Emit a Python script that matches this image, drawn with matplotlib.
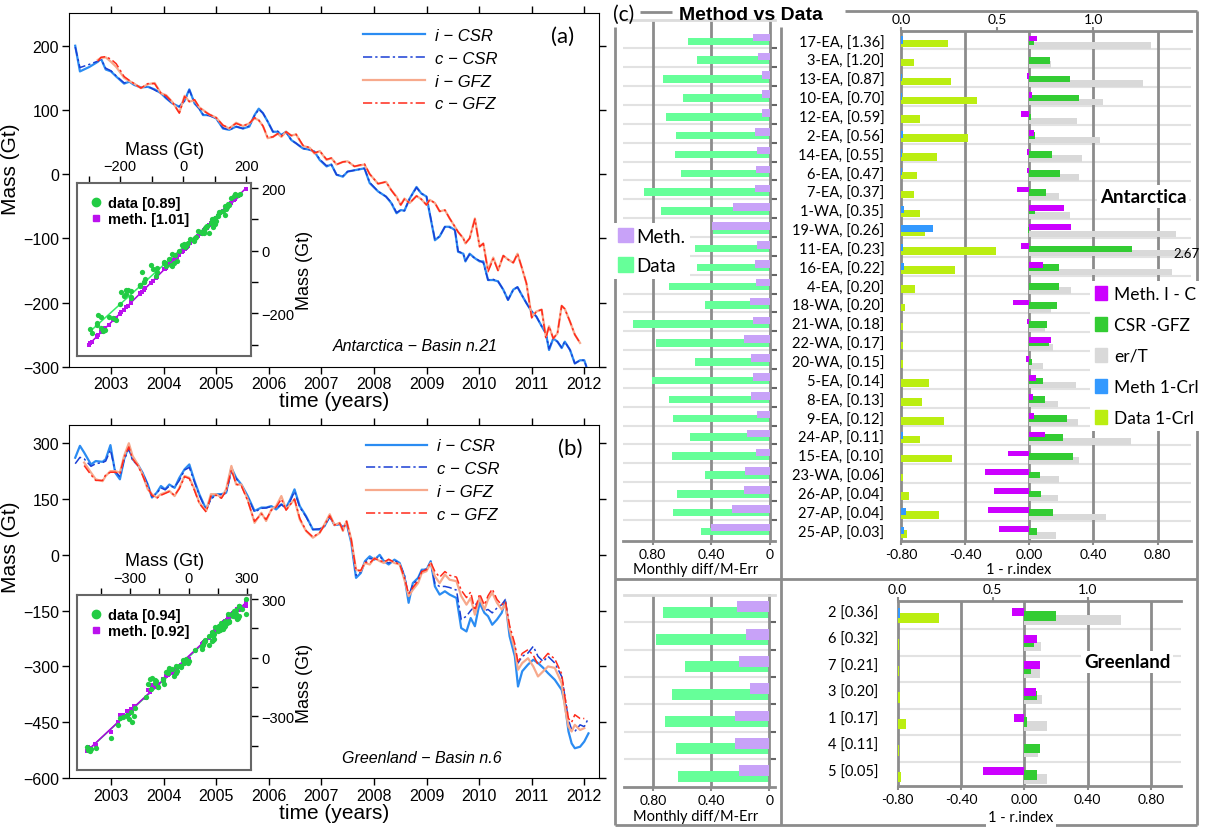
import numpy as np
import matplotlib
matplotlib.use('Agg')
import matplotlib.pyplot as plt
from matplotlib.patches import Patch
from matplotlib.lines import Line2D

nan = np.nan
W, H = 1206, 828

# ---------------- panel (a): Antarctica, basin 21 ----------------
t_a = [2002.32, 2002.41, 2002.59, 2002.75, 2002.81, 2002.90, 2003.00, 2003.10, 2003.25, 2003.35,
       2003.44, 2003.57, 2003.70, 2003.83, 2003.95, 2004.05, 2004.17, 2004.30, 2004.40, 2004.49,
       2004.59, 2004.68, 2004.75, 2004.87, 2005.00, 2005.13, 2005.25, 2005.38, 2005.51, 2005.63,
       2005.73, 2005.81, 2005.89, 2005.98, 2006.08, 2006.17, 2006.24, 2006.33, 2006.43, 2006.52,
       2006.65, 2006.78, 2006.87, 2006.97, 2007.10, 2007.19, 2007.29, 2007.41, 2007.50, 2007.63,
       2007.82, 2007.92, 2008.08, 2008.23, 2008.33, 2008.43, 2008.51, 2008.58, 2008.68, 2008.81,
       2008.90, 2009.00, 2009.06, 2009.16, 2009.25, 2009.35, 2009.44, 2009.54, 2009.60, 2009.70,
       2009.74, 2009.82, 2009.92, 2010.01, 2010.08, 2010.17, 2010.27, 2010.36, 2010.46, 2010.55,
       2010.65, 2010.73, 2010.81, 2010.90, 2011.00, 2011.09, 2011.19, 2011.27, 2011.33, 2011.41,
       2011.49, 2011.57, 2011.63, 2011.73, 2011.82, 2011.92, 2012.00, 2012.04]
i_csr_a = [200, 160, 167, 175, 180, 163, 160, 152, 141, 144, 139, 135, 136, 132, 126, 118, 110, 105,
           115, 132, 110, 102, 92, 92, 87, 71, 69, 74, 71, 74, 92, 102, 95, 82, 66, 66, 61, 66, 53,
           48, 40, 38, 35, 22, 12, 15, -1, -4, 4, 6, 9, -14, -27, -35, -45, -61, -56, -57, -38, -20,
           -30, -35, -61, -103, -97, -82, -82, -87, -121, -124, -136, -124, -131, -136, -136, -165,
           -165, -167, -180, -196, -180, -176, -188, -201, -214, -222, -237, -248, -274, -256, -261,
           -271, -261, -274, -295, -290, -290, -300]
c_csr_a = [198, 166, 171, 176, 179, 165, 161, 153, 142, 145, 140, 135, 137, 131, 126, 119, 110, 105,
           114, 131, 111, 102, 93, 91, 87, 72, 69, 74, 71, 75, 91, 101, 95, 82, 66, 67, 61, 65, 53,
           48, 40, 38, 35, 23, 13, 15, -1, -3, 4, 6, 9, -13, -27, -35, -44, -60, -56, -57, -38, -21,
           -30, -35, -60, -102, -97, -82, -83, -87, -120, -124, -135, -125, -131, -135, -138, -165,
           -164, -167, -180, -196, -180, -176, -188, -201, -214, -222, -237, -248, -272, -256, -261,
           -270, -261, -274, -295, -290, -290, -300]
i_gfz_a = [nan, nan, nan, 178, 181, 182, 175, 167, 150, 145, 141, 134, 140, 142, 126, 123, 112, 96,
           122, 113, 115, 104, 100, 93, 88, 76, 71, 80, 75, 79, 87, 84, 75, 56, 58, 63, 58, 66, 60,
           62, 44, 41, 32, 36, 22, 25, 15, 19, 20, 12, 15, 0, -15, -12, -25, -35, -48, -38, -45, -34,
           -39, -48, -40, -45, -58, -56, -69, -82, -90, -100, -108, -100, -69, -113, -108, -149,
           -130, -150, -127, -133, -138, -124, -145, -170, -222, -214, -211, -253, -237, -256, -248,
           -205, -210, -230, -250, -263, nan, nan]
c_gfz_a = [nan, nan, nan, 176, 182, 183, 179, 172, 152, 146, 141, 134, 141, 141, 126, 122, 112, 95,
           121, 113, 116, 104, 99, 93, 88, 76, 72, 79, 75, 79, 88, 84, 75, 57, 58, 63, 59, 66, 60,
           62, 45, 41, 33, 36, 23, 25, 15, 19, 20, 12, 16, 0, -15, -12, -25, -36, -48, -39, -45, -34,
           -39, -48, -40, -45, -58, -56, -69, -82, -90, -100, -108, -100, -70, -113, -108, -152,
           -132, -150, -127, -133, -138, -124, -145, -170, -224, -214, -211, -256, -237, -256, -248,
           -205, -210, -230, -250, -263, nan, nan]

# ---------------- panel (b): Greenland, basin 6 ----------------
t_b = [2002.32, 2002.41, 2002.49, 2002.62, 2002.71, 2002.84, 2002.90, 2002.99, 2003.08, 2003.17,
       2003.25, 2003.34, 2003.41, 2003.51, 2003.60, 2003.70, 2003.78, 2003.87, 2003.95, 2004.03,
       2004.11, 2004.21, 2004.30, 2004.40, 2004.49, 2004.59, 2004.68, 2004.81, 2004.90, 2005.00,
       2005.10, 2005.19, 2005.29, 2005.38, 2005.48, 2005.60, 2005.73, 2005.86, 2005.95, 2006.05,
       2006.14, 2006.24, 2006.33, 2006.41, 2006.49, 2006.59, 2006.71, 2006.84, 2006.97, 2007.06,
       2007.16, 2007.25, 2007.35, 2007.41, 2007.48, 2007.57, 2007.66, 2007.75, 2007.83, 2007.92,
       2008.01, 2008.11, 2008.19, 2008.28, 2008.39, 2008.49, 2008.58, 2008.66, 2008.74, 2008.84,
       2008.91, 2009.00, 2009.08, 2009.16, 2009.25, 2009.35, 2009.44, 2009.57, 2009.66, 2009.76,
       2009.84, 2009.92, 2010.01, 2010.10, 2010.17, 2010.25, 2010.34, 2010.43, 2010.50, 2010.58,
       2010.68, 2010.74, 2010.82, 2010.93, 2011.03, 2011.12, 2011.22, 2011.31, 2011.44, 2011.57,
       2011.63, 2011.70, 2011.76, 2011.82, 2011.92, 2012.00, 2012.08]
i_csr_b = [261, 293, 275, 243, 252, 250, 257, 295, 221, 203, 257, 293, 257, 243, 221, 189, 154, 167,
           185, 176, 189, 180, 207, 230, 243, 198, 163, 122, 154, 163, 163, 167, 234, 207, 189, 158,
           118, 127, 127, 131, 122, 136, 127, 149, 176, 131, 104, 68, 68, 77, 104, 80, 82, 73, 86,
           32, -62, -49, -17, -4, -13, 0, -17, -26, -13, -22, -58, -129, -76, -62, -40, -40, -17,
           -85, -107, -98, -107, -116, -197, -206, -170, -192, -129, -156, -165, -188, -174, -156,
           -125, -219, -273, -354, -313, -295, -282, -291, -304, -318, -336, -363, -399, -475, -507,
           -520, -516, -502, -480]
c_csr_b = [245, 262, 258, 238, 245, 248, 252, 282, 225, 210, 255, 285, 255, 240, 220, 188, 156, 165,
           180, 175, 185, 182, 200, 228, 235, 195, 160, 120, 150, 160, 162, 165, 225, 205, 185, 155,
           115, 125, 126, 130, 125, 135, 125, 145, 170, 128, 102, 68, 70, 78, 102, 80, 83, 75, 85,
           35, -55, -46, -20, -10, -12, -5, -15, -22, -15, -24, -55, -110, -80, -65, -42, -38, -20,
           -78, -85, -85, -88, -95, -174, -165, -150, -138, -116, -150, -147, -156, -143, -134,
           -120, -205, -250, -291, -273, -264, -246, -273, -287, -273, -291, -327, -380, -444, -470,
           -475, -457, -462, -439]
i_gfz_b = [nan, nan, 248, 221, 203, 198, 212, 225, 225, 221, 266, 300, 266, 243, 216, 176, 163, 154,
           163, 167, 172, 158, 180, 212, 207, 176, 140, 118, 163, 163, 154, 176, 239, 189, 189, 149,
           86, 113, 91, 122, 131, 158, 122, 136, 149, 95, 64, 46, 59, 82, 109, 80, 86, 64, 91, 41,
           -40, -44, -22, -26, -8, -17, -22, -13, -22, -26, -67, -111, -94, -76, -49, -44, -22, -58,
           -76, -53, -67, -71, -111, -134, -116, -161, -116, -147, -120, -102, -129, -147, -134,
           -201, -255, -309, -291, -278, -300, -327, -313, -300, -304, -345, -408, -462, -475, -457,
           -471, -466, nan]
c_gfz_b = [nan, nan, 240, 215, 200, 200, 215, 222, 222, 218, 262, 290, 258, 240, 214, 180, 160, 152,
           160, 165, 170, 160, 178, 210, 205, 172, 138, 115, 158, 160, 152, 172, 228, 190, 185, 145,
           90, 110, 95, 120, 128, 150, 120, 135, 150, 98, 65, 48, 60, 80, 105, 80, 85, 66, 90, 40,
           -42, -42, -20, -22, -10, -15, -20, -12, -20, -25, -62, -105, -88, -70, -45, -40, -20, -45,
           -60, -45, -55, -60, -95, -115, -100, -150, -105, -135, -110, -92, -120, -135, -125, -190,
           -240, -290, -265, -255, -270, -295, -280, -265, -280, -320, -380, -440, -450, -430, -440,
           -440, nan]

# ---------------- panel (c): method vs data ----------------
ant_labels = ['17-EA, [1.36]', '3-EA, [1.20]', '13-EA, [0.87]', '10-EA, [0.70]', '12-EA, [0.59]',
              '2-EA, [0.56]', '14-EA, [0.55]', '6-EA, [0.47]', '7-EA, [0.37]', '1-WA, [0.35]',
              '19-WA, [0.26]', '11-EA, [0.23]', '16-EA, [0.22]', '4-EA, [0.20]', '18-WA, [0.20]',
              '21-WA, [0.18]', '22-WA, [0.17]', '20-WA, [0.15]', '5-EA, [0.14]', '8-EA, [0.13]',
              '9-EA, [0.12]', '24-AP, [0.11]', '15-EA, [0.10]', '23-WA, [0.06]', '26-AP, [0.04]',
              '27-AP, [0.04]', '25-AP, [0.03]']
ant_meth_md = [0.111, 0.082, 0.052, 0.050, 0.055, 0.098, 0.089, 0.095, 0.098, 0.248, 0.395, 0.084,
               0.098, 0.093, 0.132, 0.114, 0.173, 0.130, 0.116, 0.125, 0.089, 0.152, 0.091, 0.166,
               0.173, 0.259, 0.400]
ant_data_md = [0.555, 0.493, 0.732, 0.591, 0.705, 0.639, 0.648, 0.605, 0.861, 0.741, 0.384, 0.511,
               0.493, 0.689, 0.443, 0.936, 0.775, 0.507, 0.807, 0.691, 0.657, 0.541, 0.666, 0.439,
               0.630, 0.661, 0.470]
ant_meth_ic = [0.050, 0.0, -0.012, 0.017, -0.050, 0.030, -0.012, -0.017, -0.079, 0.217, 0.260,
               -0.050, 0.085, 0.0, -0.104, -0.015, 0.135, -0.019, 0.040, 0.025, 0.030, 0.098,
               -0.135, -0.277, -0.221, -0.256, -0.190]
ant_csr_gfz = [0.030, 0.129, 0.256, 0.310, 0.008, 0.037, 0.142, 0.190, 0.104, 0.037, -0.010, 0.638,
               0.185, 0.183, 0.173, 0.108, 0.123, 0.019, 0.083, 0.098, 0.233, 0.210, 0.275, 0.067,
               0.075, 0.150, 0.046]
ant_er_t = [0.758, 0.138, 0.708, 0.458, 0.300, 0.442, 0.329, 0.310, 0.183, 0.252, 0.917, 2.67,
            0.892, 0.258, 0.135, 0.098, 0.146, 0.083, 0.292, 0.181, 0.306, 0.633, 0.310, 0.188,
            0.179, 0.477, 0.165]
ant_meth_crl = [0.012, 0.002, 0.003, 0.003, 0.0, 0.012, 0.003, 0.003, 0.0, 0.016, 0.166, 0.010,
                0.016, 0.0, 0.0, 0.0, 0.0, 0.0, 0.002, 0.002, 0.002, 0.009, 0.002, 0.0, 0.0, 0.024,
                0.016]
ant_data_crl = [0.246, 0.068, 0.258, 0.393, 0.099, 0.347, 0.189, 0.081, 0.068, 0.099, 0.123, 0.494,
                0.279, 0.073, 0.021, 0.009, 0.009, 0.009, 0.144, 0.111, 0.225, 0.099, 0.267, 0.012,
                0.043, 0.198, 0.029]

grl_labels = ['2 [0.36]', '6 [0.32]', '7 [0.21]', '3 [0.20]', '1 [0.17]', '4 [0.11]', '5 [0.05]']
grl_meth_md = [0.225, 0.162, 0.209, 0.130, 0.233, 0.233, 0.207]
grl_data_md = [0.731, 0.781, 0.583, 0.673, 0.715, 0.641, 0.630]
grl_meth_ic = [-0.078, 0.078, 0.097, 0.073, -0.065, 0.0, -0.259]
grl_csr_gfz = [0.199, 0.061, 0.044, 0.078, 0.015, 0.097, 0.080]
grl_er_t = [0.611, 0.104, 0.097, 0.114, 0.141, 0.085, 0.141]
grl_meth_crl = [0.012, 0.003, 0.003, 0.003, 0.004, 0.003, 0.003]
grl_data_crl = [0.219, 0.006, 0.006, 0.014, 0.044, 0.006, 0.016]

C_ICSR, C_CCSR, C_IGFZ, C_CGFZ = '#2b8cf2', '#1a3fd4', '#f7a98c', '#ff2a1a'
C_MMD, C_DMD = '#c8a2f8', '#66ff99'
C_IC, C_CG, C_ER, C_MC, C_DC = '#cc00ff', '#33cc33', '#d9d9d9', '#3399ff', '#bbee11'
GRID = '#8c8c8c'
LIGHT = '#e2e2e2'
DASHDOT = (0, (6, 2, 1.5, 2))

plt.rcParams['font.family'] = ['Liberation Sans', 'DejaVu Sans']
fig = plt.figure(figsize=(W / 100, H / 100), dpi=100)


def rect(x0, y0, x1, y1):
    # pixel box (y measured from the top) -> figure fraction
    return [x0 / W, 1 - y1 / H, (x1 - x0) / W, (y1 - y0) / H]


# frame of panel (c), drawn in pixel space
frame = fig.add_axes([0, 0, 1, 1])
frame.set_xlim(0, W)
frame.set_ylim(H, 0)
frame.axis('off')
for xs, ys in [((640, 672), (13, 13)), ((845, 1197), (12, 12)), ((615, 615), (28, 826)),
               ((1197, 1197), (12, 826)), ((615, 1197), (826, 826)), ((781, 781), (28, 826)),
               ((615, 1197), (580, 580))]:
    frame.plot(xs, ys, color=GRID, lw=2, solid_capstyle='butt')
frame.text(696, 570, 'Monthly diff/M-Err', fontsize=10.5, family='Lato', ha='center', va='center')
frame.text(696, 817, 'Monthly diff/M-Err', fontsize=10.5, family='Lato', ha='center', va='center')
frame.text(1019, 570, '1 - r.index', fontsize=10.5, family='Lato', ha='center', va='center')
frame.text(1021, 818, '1 - r.index', fontsize=10.5, family='Lato', ha='center', va='center',
           bbox=dict(facecolor='white', edgecolor='none', pad=2))
fig.text(624 / W, 1 - 15 / H, '(c)', fontsize=15, family='Lato', ha='center', va='center')
fig.text(679 / W, 1 - 15 / H, 'Method vs Data', fontsize=14, fontweight='bold', ha='left',
         va='center')


def series_panel(box, t, icsr, ccsr, igfz, cgfz, ylim, yticks, tag, tag_xy, basin, basin_xy,
                 leg_xy, ylab_y):
    ax = fig.add_axes(rect(*box))
    ax.plot(t, icsr, color=C_ICSR, lw=1.6, label='i − CSR')
    ax.plot(t, ccsr, color=C_CCSR, lw=1.1, ls=DASHDOT, label='c − CSR')
    ax.plot(t, igfz, color=C_IGFZ, lw=1.6, label='i − GFZ')
    ax.plot(t, cgfz, color=C_CGFZ, lw=1.1, ls=DASHDOT, label='c − GFZ')
    ax.set_xlim(2002.2, 2012.28)
    ax.set_ylim(*ylim)
    ax.set_xticks(range(2003, 2013))
    ax.set_yticks(yticks)
    ax.tick_params(direction='out', length=5, width=1, labelsize=11.5, top=True, right=True, pad=2)
    ax.set_xlabel('time (years)', fontsize=15, labelpad=0)
    ax.set_ylabel('Mass (Gt)', fontsize=15)
    ax.yaxis.set_label_coords(-0.092, ylab_y)
    ax.legend(loc='upper left', bbox_to_anchor=leg_xy, frameon=False,
              prop={'style': 'italic', 'size': 12}, handlelength=3.7, handletextpad=0.6,
              labelspacing=0.47, borderpad=0, borderaxespad=0)
    ax.text(*tag_xy, tag, transform=ax.transAxes, fontsize=16, family='Lato', ha='center', va='center')
    ax.text(*basin_xy, basin, transform=ax.transAxes, fontsize=11.5, style='italic',
            ha='right', va='center')
    return ax


def inset_panel(box, icsr, ccsr, igfz, lim, ticks, labticks, leg_labels):
    ax = fig.add_axes(rect(*box))
    x = np.array(icsr, float)
    ym = np.array(ccsr, float)
    yd = np.array(igfz, float)
    mm = ~np.isnan(x) & ~np.isnan(ym)
    md = ~np.isnan(x) & ~np.isnan(yd)
    ax.plot(x[mm], ym[mm], 's', color='#bb11ee', ms=3.2, mew=0, zorder=3)
    ax.plot(x[md], yd[md], 'o', color='#22cc44', ms=3.8, mew=0, zorder=4)
    for xx, yy, col in [(x[md], yd[md], '#33ee66'), (x[mm], ym[mm], '#aa00dd')]:
        p = np.polyfit(xx, yy, 1)
        xs = np.array([xx.min(), xx.max()])
        ax.plot(xs, np.polyval(p, xs), color=col, lw=1.1, zorder=2)
    ax.set_xlim(*lim)
    ax.set_ylim(*lim)
    lab = [('%d' % v).replace('-', '−') if v in labticks else '' for v in ticks]
    ax.set_xticks(ticks)
    ax.set_xticklabels(lab)
    ax.set_yticks(ticks)
    ax.set_yticklabels(lab)
    ax.xaxis.tick_top()
    ax.yaxis.tick_right()
    ax.xaxis.set_label_position('top')
    ax.yaxis.set_label_position('right')
    ax.tick_params(direction='out', length=5, width=1, labelsize=10.5, pad=2)
    ax.set_xlabel('Mass (Gt)', fontsize=13, labelpad=4)
    ax.set_ylabel('Mass (Gt)', fontsize=13, labelpad=1)
    for s in ax.spines.values():
        s.set_color('#666666')
        s.set_linewidth(1.5)
    handles = [Line2D([], [], marker='o', ls='none', color='#22cc44', ms=6),
               Line2D([], [], marker='s', ls='none', color='#bb11ee', ms=5)]
    ax.legend(handles, leg_labels, loc='upper left', frameon=False, handlelength=0.8,
              handletextpad=0.4, labelspacing=0.15, borderaxespad=0.5,
              prop={'weight': 'bold', 'size': 10.5})
    return ax


series_panel((68.9, 14, 599, 367.7), t_a, i_csr_a, c_csr_a, i_gfz_a, c_gfz_a, (-300, 251),
             [-300, -200, -100, 0, 100, 200], '(a)', (0.932, 0.935),
             'Antarctica − Basin n.21', (0.81, 0.061), (0.555, 0.958), 0.562)
series_panel((68.9, 426, 599, 779), t_b, i_csr_b, c_csr_b, i_gfz_b, c_gfz_b, (-600, 349),
             [-600, -450, -300, -150, 0, 150, 300], '(b)', (0.945, 0.935),
             'Greenland − Basin n.6', (0.816, 0.057), (0.56, 0.962), 0.657)
inset_panel((77, 184, 251.3, 357.3), i_csr_a, c_csr_a, i_gfz_a, (-337, 216),
            [-300, -200, -100, 0, 100, 200], [-200, 0, 200], ['data [0.89]', 'meth. [1.01]'])
inset_panel((77, 595.7, 251.3, 770.7), i_csr_b, c_csr_b, i_gfz_b, (-572, 322),
            [-450, -300, -150, 0, 150, 300], [-300, 0, 300], ['data [0.94]', 'meth. [0.92]'])


def diff_panel(box, meth, data, ylim, offs):
    ax = fig.add_axes(rect(*box))
    ax.patch.set_visible(False)
    rows = np.arange(len(meth))
    ax.barh(rows + offs[1], data, height=0.4, color=C_DMD, zorder=2)
    ax.barh(rows + offs[0], meth, height=0.4, color=C_MMD, zorder=3)
    ax.set_xlim(1.0, -0.037)
    ax.set_ylim(*ylim)
    for v in (0.8, 0.4):
        ax.axvline(v, color=GRID, lw=2, zorder=1)
    ax.hlines(rows[:-1] + 0.5 + offs[2], 1.0, 0, color=LIGHT, lw=1.5, zorder=0)
    ax.spines['left'].set_visible(False)
    ax.spines['top'].set_color('#dcdcdc')
    ax.spines['top'].set_linewidth(2)
    ax.spines['bottom'].set_color(GRID)
    ax.spines['bottom'].set_linewidth(2)
    ax.spines['right'].set_position(('data', 0))
    ax.spines['right'].set_color(GRID)
    ax.spines['right'].set_linewidth(2)
    ax.set_yticks(rows[:-1] + 0.5 + offs[2])
    ax.tick_params(axis='y', left=False, right=True, labelleft=False, labelright=False,
                   length=5, width=1.5, color='#666666')
    ax.set_xticks([0.8, 0.4, 0])
    ax.set_xticklabels(['0.80', '0.40', '0'], fontsize=10, family='Lato')
    ax.tick_params(axis='x', length=3, width=1.5, color=GRID, pad=2)
    return ax


diff_panel((623.3, 21.4, 775, 541.7), ant_meth_md, ant_data_md, (26.56, -1.04), (-0.13, 0.07, -0.05))
diff_panel((624, 596, 774.7, 787.7), grl_meth_md, grl_data_md, (6.49, -0.53), (-0.1, 0.1, -0.03))


def rindex_panel(box, labels, ic, cg, er, mcrl, dcrl, xlim, ylim, offs, label_pad, line_off):
    ax = fig.add_axes(rect(*box))
    ax.patch.set_visible(False)
    rows = np.arange(len(labels))
    o_ic, o_cg, o_er, o_mc, o_dc = offs
    ax.barh(rows + o_er, er, height=0.35, color=C_ER, zorder=2)
    ax.barh(rows + o_cg, cg, height=0.35, color=C_CG, zorder=3)
    ax.barh(rows + o_ic, ic, height=0.3, color=C_IC, zorder=4)
    ax.barh(rows + o_dc, 1.2 * np.array(dcrl), left=-0.8, height=0.4, color=C_DC, zorder=3)
    ax.barh(rows + o_mc, 1.2 * np.array(mcrl), left=-0.8, height=0.38, color=C_MC, zorder=4)
    ax.set_xlim(*xlim)
    ax.set_ylim(*ylim)
    for v in (-0.4, 0.0, 0.4, 0.8):
        ax.axvline(v, color=GRID, lw=2, zorder=1)
    ax.hlines(rows[:-1] + line_off, xlim[0], xlim[1], color=LIGHT, lw=1.5, zorder=0)
    for s in ('left', 'bottom'):
        ax.spines[s].set_color(GRID)
        ax.spines[s].set_linewidth(2)
    ax.spines['right'].set_visible(False)
    ax.spines['top'].set_visible(False)
    ax.set_yticks(rows + 0.05)
    ax.set_yticklabels(labels, fontsize=10.5, family='Lato')
    ax.tick_params(axis='y', length=0, pad=label_pad)
    ax.set_xticks([-0.8, -0.4, 0, 0.4, 0.8])
    ax.set_xticklabels(['-0.80', '-0.40', '0.00', '0.40', '0.80'], fontsize=10, family='Lato')
    ax.tick_params(axis='x', length=3, width=1.5, color=GRID, pad=2)
    top = ax.secondary_xaxis('top', functions=(lambda b: (b + 0.8) / 1.2, lambda t: t * 1.2 - 0.8))
    top.set_xticks([0, 0.5, 1.0])
    top.set_xticklabels(['0.0', '0.5', '1.0'], fontsize=10, family='Lato')
    top.tick_params(length=3, width=1.5, color=GRID, pad=1)
    top.spines['top'].set_color(GRID)
    top.spines['top'].set_linewidth(2)
    return ax


ax_ant = rindex_panel((901, 31.7, 1190.7, 541.7), ant_labels, ant_meth_ic, ant_csr_gfz, ant_er_t,
                      ant_meth_crl, ant_data_crl, (-0.80, 1.006), (26.56, -0.49),
                      (-0.07, 0.08, 0.3, 0.0, 0.2), 12, 0.5)
ax_ant.text(1.03, 11.3, '2.67', transform=ax_ant.get_yaxis_transform(), fontsize=9.5,
            family='Lato', ha='right', va='center', zorder=6)
ax_ant.text(0.44, 8.3, 'Antarctica', fontsize=13.5, fontweight='bold', family='Lato', ha='left',
            va='center', zorder=6, bbox=dict(facecolor='white', edgecolor='none', pad=2))
ax_ant.legend([Patch(color=c) for c in (C_IC, C_CG, C_ER, C_MC, C_DC)],
              ['Meth. I - C', 'CSR -GFZ', 'er/T', 'Meth 1-Crl', 'Data 1-Crl'],
              loc='upper left', bbox_to_anchor=(0.652, 0.51), fancybox=False, framealpha=1,
              edgecolor='none', handlelength=0.7, handleheight=0.9, handletextpad=0.4,
              labelspacing=0.85, borderpad=0.3, borderaxespad=0,
              prop={'family': 'Lato', 'size': 12.5})

ax_grl = rindex_panel((897.6, 601.7, 1181, 786.7), grl_labels, grl_meth_ic, grl_csr_gfz, grl_er_t,
                      grl_meth_crl, grl_data_crl, (-0.80, 0.99), (6.63, -0.35),
                      (0.08, 0.23, 0.38, 0.12, 0.3), 14, 0.72)
ax_grl.text(0.376, 1.96, 'Greenland', fontsize=13.5, fontweight='bold', family='Lato', ha='left',
            va='center', zorder=6, bbox=dict(facecolor='white', edgecolor='none', pad=2))

fig.legend([Patch(color=C_MMD), Patch(color=C_DMD)], ['Meth.', 'Data'], loc='upper left',
           bbox_to_anchor=(613 / W, 1 - 224 / H), fancybox=False, framealpha=1, edgecolor='none',
           handlelength=0.8, handleheight=0.8, handletextpad=0.2, labelspacing=0.65,
           borderpad=0.25, borderaxespad=0, prop={'family': 'Lato', 'size': 13.5})

fig.savefig('out.png', dpi=100)
